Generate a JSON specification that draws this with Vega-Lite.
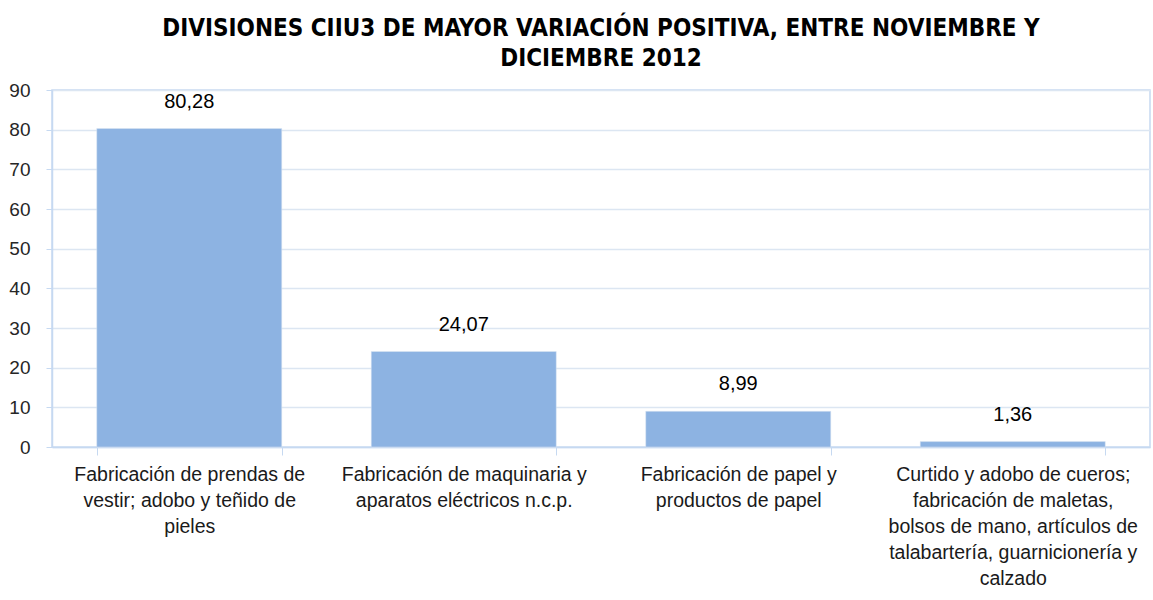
{
  "$schema": "https://vega.github.io/schema/vega-lite/v6.json",
  "autosize": "none",
  "padding": {"left": 52, "top": 90, "right": 3, "bottom": 153},
  "width": 1098,
  "height": 357,
  "background": "white",
  "title": {
    "text": ["DIVISIONES CIIU3 DE MAYOR VARIACIÓN POSITIVA, ENTRE  NOVIEMBRE Y", "DICIEMBRE 2012"],
    "font": "DejaVu Sans Condensed",
    "fontSize": 24,
    "fontWeight": "bold",
    "color": "#000000",
    "lineHeight": 30,
    "anchor": "middle",
    "offset": 10
  },
  "data": {
    "values": [
      {"division": "Fabricación de prendas de|vestir; adobo y teñido de|pieles", "valor": 80.28, "etiqueta": "80,28"},
      {"division": "Fabricación de maquinaria y|aparatos eléctricos n.c.p.", "valor": 24.07, "etiqueta": "24,07"},
      {"division": "Fabricación de papel y|productos de papel", "valor": 8.99, "etiqueta": "8,99"},
      {"division": "Curtido y adobo de cueros;|fabricación de maletas,|bolsos de mano, artículos de|talabartería, guarnicionería y|calzado", "valor": 1.36, "etiqueta": "1,36"}
    ]
  },
  "encoding": {
    "x": {
      "field": "division",
      "type": "nominal",
      "sort": null,
      "scale": {"paddingInner": 0.326, "paddingOuter": 0.163},
      "axis": {
        "title": null,
        "labelAngle": 0,
        "labelExpr": "split(datum.label, '|')",
        "labelFont": "Liberation Sans",
        "labelFontSize": 19.5,
        "labelLineHeight": 26,
        "labelColor": "#1a1a1a",
        "labelLimit": 400,
        "labelPadding": 10,
        "labelBaseline": "top",
        "tickBand": "extent",
        "tickSize": 8,
        "tickColor": "#C6D9F1",
        "domainColor": "#C6D9F1",
        "domainWidth": 1.5,
        "grid": false
      }
    },
    "y": {
      "field": "valor",
      "type": "quantitative",
      "scale": {"domain": [0, 90], "nice": false},
      "axis": {
        "title": null,
        "values": [0, 10, 20, 30, 40, 50, 60, 70, 80, 90],
        "labelFont": "Liberation Sans",
        "labelFontSize": 19,
        "labelColor": "#262626",
        "labelPadding": 16,
        "tickSize": 6,
        "tickColor": "#C6D9F1",
        "domainColor": "#C6D9F1",
        "domainWidth": 1.5,
        "gridColor": "#DCE6F2",
        "gridWidth": 1.5
      }
    }
  },
  "layer": [
    {"mark": {"type": "bar", "color": "#8DB3E2", "stroke": "#DCE6F2", "strokeWidth": 0.5}},
    {
      "mark": {"type": "text", "baseline": "middle", "dy": -27, "font": "Liberation Sans", "fontSize": 20, "color": "#000000"},
      "encoding": {"text": {"field": "etiqueta", "type": "nominal"}}
    }
  ],
  "config": {
    "view": {"stroke": "#C6D9F1", "strokeWidth": 1.5}
  }
}
